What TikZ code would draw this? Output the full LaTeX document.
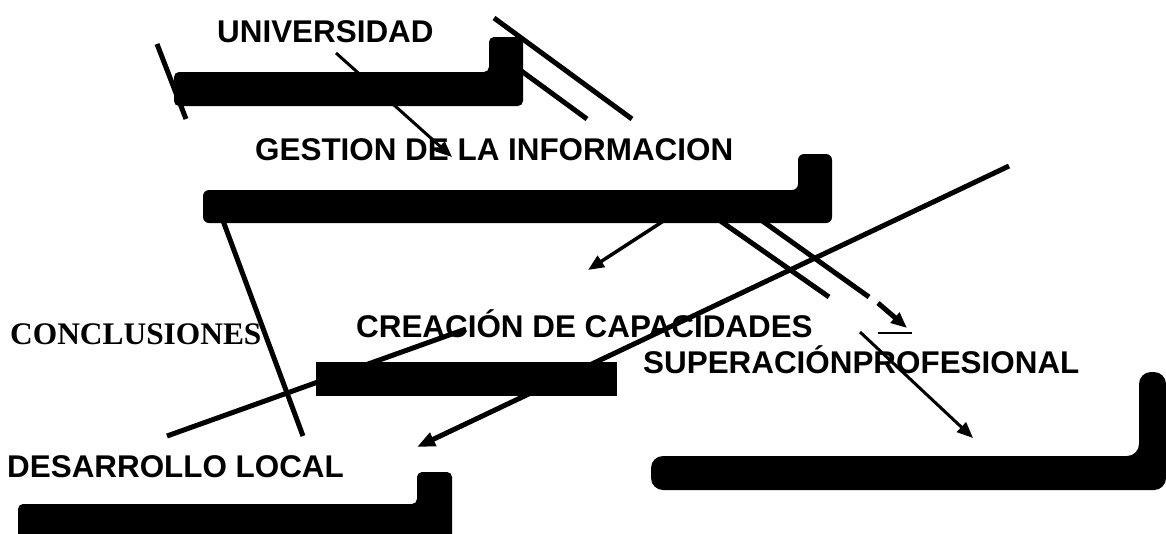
\documentclass[tikz,border=0pt]{standalone}
\usepackage{fontspec}
\setmainfont{Liberation Sans}
\newfontfamily\serifbold{Liberation Serif}
\usetikzlibrary{arrows.meta}
\begin{document}
\begin{tikzpicture}[x=1pt,y=-1pt,
  thickline/.style={line width=5pt},
  thinline/.style={line width=3pt},
  tipbig/.style={-{Triangle[length=18pt,width=14pt]}},
  tipsmall/.style={-{Triangle[length=16pt,width=13pt]}},
  bar/.style={fill=black},
  lbl/.style={anchor=base west,inner sep=0pt,font=\bfseries\fontsize{31.4}{36}\selectfont}]
\useasboundingbox (0,0) rectangle (1166,533);
% coordinates (free ends)
\coordinate (a1) at (157,44);  \coordinate (a2) at (186,119);
\coordinate (u1) at (336,53);  \coordinate (u2) at (452,157);
\coordinate (la1) at (494,18); \coordinate (la2) at (632,119);
\coordinate (lb1) at (520,70); \coordinate (lb2) at (587,119);
\coordinate (g1) at (222,218); \coordinate (g2) at (303,436);
\coordinate (gc1) at (665,220); \coordinate (gc2) at (588,270);
\coordinate (lc1) at (719,220); \coordinate (lc2) at (829,297);
\coordinate (ld1) at (761,220); \coordinate (ld2) at (869,297);
\coordinate (ld3) at (878,303); \coordinate (ld4) at (907,328);
\coordinate (ul1) at (878,333); \coordinate (ul2) at (912,333);
\coordinate (ts1) at (860,332); \coordinate (ts2) at (973,438);
\coordinate (l1a) at (1009,166); \coordinate (l1b) at (417,447);
\coordinate (l2a) at (466,329); \coordinate (l2b) at (167,436);
% connectors
\draw[thickline] (a1) -- (a2);
\draw[thinline,tipsmall] (u1) -- (u2);
\draw[thickline] (la1) -- (la2);
\draw[thickline] (lb1) -- (lb2);
\draw[thickline] (g1) -- (g2);
\draw[line width=3.5pt,tipsmall] (gc1) -- (gc2);
\draw[thickline] (lc1) -- (lc2);
\draw[thickline] (ld1) -- (ld2);
\draw[thickline,tipsmall] (ld3) -- (ld4);
\draw[line width=2pt] (ul1) -- (ul2);
\draw[thinline,tipsmall] (ts1) -- (ts2);
\draw[thickline,tipbig] (l1a) -- (l1b);
\draw[thickline] (l2a) -- (l2b);
% bars
\fill[bar,rounded corners=5pt] (174,72) -- (489,72) -- (489,37) -- (523,37) -- (523,106) -- (174,106) -- cycle;
\fill[bar,rounded corners=6pt] (203,190) -- (798,190) -- (798,154) -- (832,154) -- (832,223) -- (203,223) -- cycle;
\fill[bar] (316,362) rectangle (617,396);
\fill[bar,rounded corners=12pt] (651,456) -- (1139,456) -- (1139,372) -- (1166,372) -- (1166,490) -- (651,490) -- cycle;
\fill[bar,rounded corners=5pt] (18,504) -- (417,504) -- (417,472) -- (452,472) -- (452,545) -- (18,545) -- cycle;
% labels
\node[lbl] (univ) at (217,42) {UNIVERSIDAD};
\node[lbl] (gest) at (255,160) {GESTION DE LA INFORMACION};
\node[lbl] (crea) at (356,337) {CREACIÓN DE CAPACIDADES};
\node[lbl] (super) at (643,373) {SUPERACIÓNPROFESIONAL};
\node[lbl] (desa) at (7,477) {DESARROLLO LOCAL};
\node[anchor=base west,inner sep=0pt,font=\serifbold\bfseries\fontsize{31.4}{36}\selectfont] (concl) at (10,344) {CONCLUSIONES};
\end{tikzpicture}
\end{document}
